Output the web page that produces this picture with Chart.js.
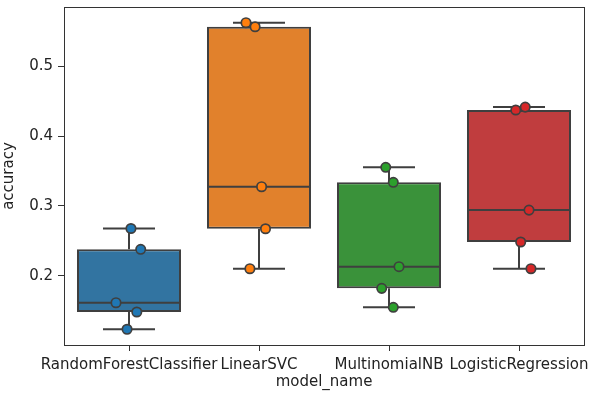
<!DOCTYPE html>
<html>
<head>
<meta charset="utf-8">
<script src="https://cdn.jsdelivr.net/npm/chart.js@4/dist/chart.umd.min.js"></script>
<style>
  html, body { margin:0; padding:0; background:#fff; }
  #wrap { width:592px; height:396px; }
</style>
</head>
<body>
<div id="wrap"><canvas id="chart" width="592" height="396"></canvas></div>
<script>
// --- dados
const models = ["RandomForestClassifier", "LinearSVC", "MultinomialNB", "LogisticRegression"];
const rfAcc  = [0.2676, 0.2378, 0.1613, 0.1480, 0.1232];
const svcAcc = [0.5625, 0.5567, 0.3275, 0.2673, 0.2100];
const nbAcc  = [0.3553, 0.3338, 0.2129, 0.1819, 0.1547];
const lrAcc  = [0.4374, 0.4416, 0.2940, 0.2483, 0.2100];
// deslocamento horizontal (jitter) de cada ponto, em unidades de categoria
const rfJit  = [0.015, 0.09, -0.10, 0.06, -0.015];
const svcJit = [-0.10, -0.03, 0.02, 0.05, -0.07];
const nbJit  = [-0.025, 0.033, 0.077, -0.056, 0.033];
const lrJit  = [-0.025, 0.048, 0.077, 0.013, 0.092];
const yTicks = [0.2, 0.3, 0.4, 0.5];

const allAcc = [rfAcc, svcAcc, nbAcc, lrAcc];
const allJit = [rfJit, svcJit, nbJit, lrJit];
const boxColors   = ["#3274a1", "#e1812c", "#3a923a", "#c03d3e"];
const pointColors = ["#1f77b4", "#ff7f0e", "#2ca02c", "#d62728"];
const edge = "#3f3f3f";

// --- quartis (interpolação linear, como numpy)
function quantil(arr, q) {
    const s = [...arr].sort((a, b) => a - b);
    const pos = (s.length - 1) * q;
    const lo = Math.floor(pos), hi = Math.ceil(pos);
    return s[lo] + (s[hi] - s[lo]) * (pos - lo);
}
const stats = allAcc.map(a => ({
    q1: quantil(a, 0.25), med: quantil(a, 0.5), q3: quantil(a, 0.75),
    lo: Math.min(...a), hi: Math.max(...a)
}));

// --- bigodes, mediana e moldura
const boxExtras = {
    id: "boxExtras",
    afterDatasetDraw(chart, args) {
        if (args.meta.type !== "bar") return;
        const ctx = chart.ctx;
        const y = chart.scales.y;
        ctx.save();
        ctx.strokeStyle = edge;
        ctx.lineWidth = 2;
        ctx.lineCap = "butt";
        args.meta.data.forEach((bar, i) => {
            const st = stats[i];
            const cx = bar.x, w = bar.width;
            const line = (x1, y1, x2, y2) => { ctx.beginPath(); ctx.moveTo(x1, y1); ctx.lineTo(x2, y2); ctx.stroke(); };
            line(cx - w / 2, y.getPixelForValue(st.med), cx + w / 2, y.getPixelForValue(st.med));
            line(cx, y.getPixelForValue(st.q3), cx, y.getPixelForValue(st.hi));
            line(cx, y.getPixelForValue(st.q1), cx, y.getPixelForValue(st.lo));
            line(cx - w / 4, y.getPixelForValue(st.hi), cx + w / 4, y.getPixelForValue(st.hi));
            line(cx - w / 4, y.getPixelForValue(st.lo), cx + w / 4, y.getPixelForValue(st.lo));
        });
        ctx.restore();
    },
    afterDraw(chart) {
        const a = chart.chartArea, ctx = chart.ctx;
        ctx.save();
        ctx.strokeStyle = "#333";
        ctx.lineWidth = 1;
        ctx.strokeRect(Math.round(a.left) + 0.5, Math.round(a.top) + 0.5, Math.round(a.right - a.left), Math.round(a.bottom - a.top));
        ctx.restore();
    }
};

const pontos = [];
allAcc.forEach((a, i) => a.forEach((v, j) => pontos.push({ x: i + allJit[i][j], y: v, c: pointColors[i] })));

const font = { family: "DejaVu Sans", size: 15 };

new Chart(document.getElementById("chart").getContext("2d"), {
    type: "bar",
    data: {
        labels: models,
        datasets: [
            {
                type: "scatter",
                order: 1,
                xAxisID: "xs",
                data: pontos.map(p => ({ x: p.x, y: p.y })),
                backgroundColor: pontos.map(p => p.c),
                borderColor: edge,
                borderWidth: 1.7,
                pointRadius: 4.7,
                pointHoverRadius: 4.7
            },
            {
                order: 2,
                grouped: false,
                data: stats.map(s => [s.q1, s.q3]),
                backgroundColor: boxColors,
                borderColor: edge,
                borderWidth: 2,
                borderSkipped: false,
                barPercentage: 0.8,
                categoryPercentage: 1.0
            }
        ]
    },
    options: {
        responsive: false,
        animation: false,
        events: [],
        layout: { padding: { left: 0, right: 8, top: 7, bottom: 5 } },
        plugins: { legend: { display: false }, tooltip: { enabled: false } },
        scales: {
            x: {
                type: "category",
                offset: true,
                grid: { display: true, drawOnChartArea: false, drawTicks: true, tickLength: 6, offset: false, color: "#333" },
                border: { display: true, color: "#333" },
                ticks: { color: "#222", font: font, padding: 5, maxRotation: 0, autoSkip: false },
                title: { display: true, text: "model_name", color: "#222", font: font, padding: { top: 0, bottom: 0 } },
                afterFit(scale) { scale.height = 46; scale.paddingLeft = 0; scale.paddingRight = 0; }
            },
            xs: {
                type: "linear",
                display: false,
                offset: false,
                min: -0.5,
                max: 3.5
            },
            y: {
                min: 0.1007,
                max: 0.585,
                grid: { display: true, drawOnChartArea: false, drawTicks: true, tickLength: 6, color: "#333" },
                border: { display: true, color: "#333" },
                afterBuildTicks(scale) { scale.ticks = yTicks.map(v => ({ value: v })); },
                ticks: { color: "#222", font: font, padding: 5, callback: v => v.toFixed(1) },
                title: { display: true, text: "accuracy", color: "#222", font: font, padding: { top: 0, bottom: 4 } },
                afterFit(scale) { scale.width = 64; scale.paddingTop = 0; scale.paddingBottom = 0; }
            }
        }
    },
    plugins: [boxExtras]
});
</script>
</body>
</html>
